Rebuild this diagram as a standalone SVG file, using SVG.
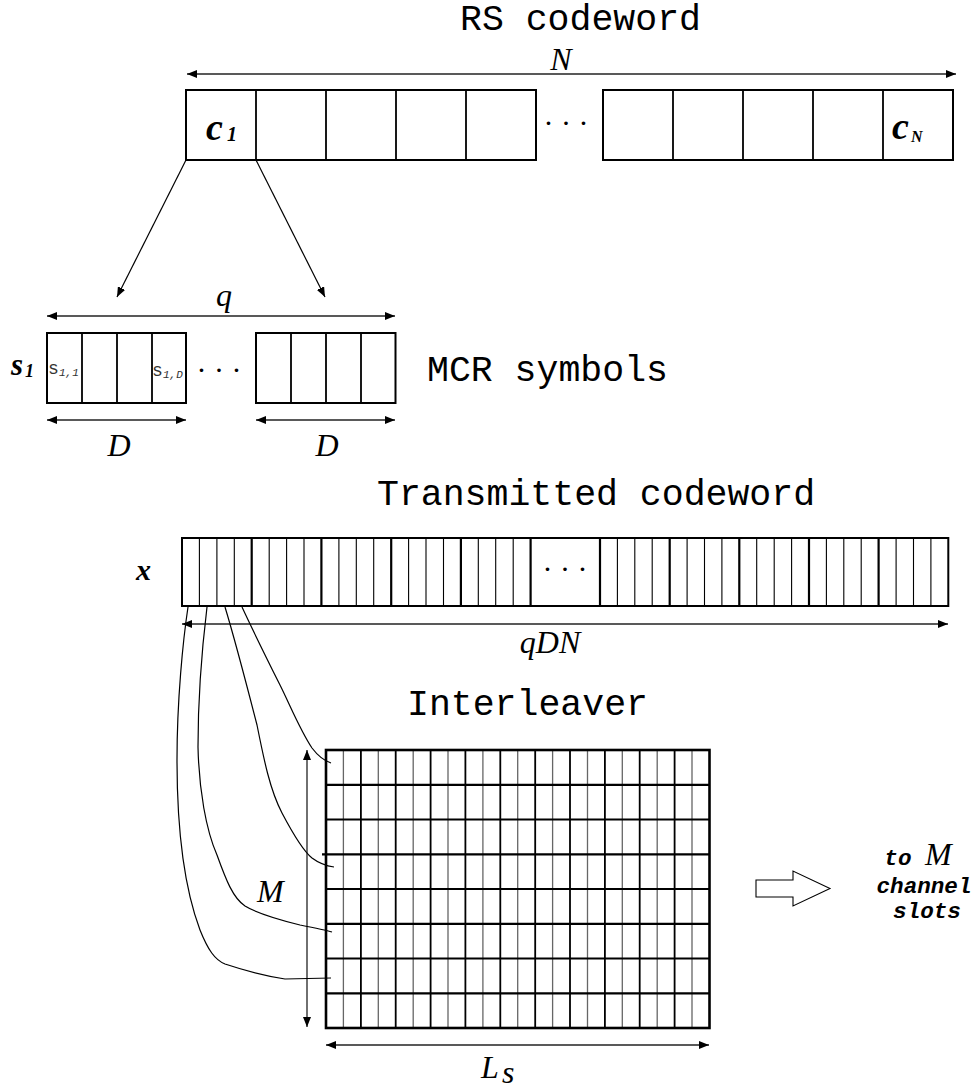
<svg xmlns="http://www.w3.org/2000/svg" width="973" height="1089" viewBox="0 0 973 1089">
<style>
.mono{font-family:"Liberation Mono","Courier New",monospace;font-size:36.5px;fill:#000}
.math{font-family:"Liberation Serif","Times New Roman",serif;font-style:italic;font-size:32px;fill:#000}
.bmath{font-family:"Liberation Serif","Times New Roman",serif;font-style:italic;font-weight:bold;fill:#000}
.bmono{font-family:"Liberation Mono","Courier New",monospace;font-style:italic;font-weight:bold;font-size:22.6px;fill:#000}
.small{font-family:"Liberation Mono","Courier New",monospace;fill:#333}
.dots{font-family:"Liberation Serif",serif;font-size:30px;fill:#000}
.box{fill:#fff;stroke:#000;stroke-width:2}
.cell{fill:none;stroke:#000;stroke-width:1.8}
.thin{fill:none;stroke:#000;stroke-width:1.1}
.thick{fill:none;stroke:#000;stroke-width:2.2}
.gray{fill:none;stroke:#666;stroke-width:1.3}
.dim{fill:none;stroke:#222;stroke-width:1.3}
.conn{fill:none;stroke:#000;stroke-width:1.2}
</style>
<defs>
<marker id="ah" viewBox="0 0 10 8" refX="10" refY="4" markerWidth="10" markerHeight="8" markerUnits="userSpaceOnUse" orient="auto-start-reverse"><path d="M0,0L10,4L0,8z" fill="#000"/></marker>
</defs>

<g id="rs-codeword">
<text class="mono" x="460" y="30">RS codeword</text>
<text class="math" x="561" y="70" text-anchor="middle">N</text>
<line class="dim" x1="187" y1="74" x2="956" y2="74" marker-start="url(#ah)" marker-end="url(#ah)"/>
<rect class="box" x="186" y="90" width="350" height="70"/>
<path class="cell" d="M256,90V160M326,90V160M396,90V160M466,90V160"/>
<rect class="box" x="603" y="90" width="350" height="70"/>
<path class="cell" d="M673,90V160M743,90V160M813,90V160M883,90V160"/>
<text class="bmath" x="206" y="140" font-size="38">c</text>
<text class="bmath" x="227" y="141" font-size="20">1</text>
<text class="bmath" x="892" y="139" font-size="38">c</text>
<text class="bmath" x="911" y="142" font-size="16">N</text>
<text class="dots" x="566" y="133" text-anchor="middle">· · ·</text>
</g>

<g id="mcr-symbols">
<text class="math" x="224" y="306" text-anchor="middle">q</text>
<line class="dim" x1="47" y1="316" x2="395" y2="316" marker-start="url(#ah)" marker-end="url(#ah)"/>
<rect class="box" x="47" y="333" width="139" height="70"/>
<path class="cell" d="M82,333V403M117,333V403M152,333V403"/>
<rect class="box" x="256" y="333" width="139.5" height="70"/>
<path class="cell" d="M291,333V403M326,333V403M361,333V403"/>
<text class="bmath" x="11" y="375" font-size="31">s</text>
<text class="bmath" x="25" y="377" font-size="18">1</text>
<text class="small" x="48" y="374" font-size="18">s</text>
<text class="small" x="59" y="376" font-size="11" font-style="italic">1,1</text>
<text class="small" x="152" y="376" font-size="18">s</text>
<text class="small" x="163" y="378" font-size="11" font-style="italic">1,D</text>
<text class="dots" x="219" y="380" text-anchor="middle">· · ·</text>
<text class="mono" x="427" y="381">MCR symbols</text>
<line class="dim" x1="47" y1="420" x2="186" y2="420" marker-start="url(#ah)" marker-end="url(#ah)"/>
<line class="dim" x1="256" y1="420" x2="395" y2="420" marker-start="url(#ah)" marker-end="url(#ah)"/>
<text class="math" x="119" y="456" text-anchor="middle">D</text>
<text class="math" x="327" y="456" text-anchor="middle">D</text>
</g>

<g id="transmitted-codeword">
<text class="mono" x="377" y="505">Transmitted codeword</text>
<text class="bmath" x="136" y="580" font-size="30">x</text>
<rect class="box" x="182" y="538" width="766.3" height="68"/>
<path class="thin" d="M199.4,538V606M216.9,538V606M234.3,538V606M269.2,538V606M286.6,538V606M304,538V606M338.9,538V606M356.3,538V606M373.7,538V606M408.6,538V606M426,538V606M443.5,538V606M478.3,538V606M495.7,538V606M513.2,538V606M617.4,538V606M634.8,538V606M652.2,538V606M687.1,538V606M704.5,538V606M721.9,538V606M756.7,538V606M774.2,538V606M791.6,538V606M826.4,538V606M843.8,538V606M861.2,538V606M896.1,538V606M913.5,538V606M930.9,538V606"/>
<path class="thick" d="M251.7,538V606M321.4,538V606M391.2,538V606M460.9,538V606M530.6,538V606M600,538V606M669.7,538V606M739.3,538V606M809,538V606M878.6,538V606"/>
<text class="dots" x="565" y="579" text-anchor="middle">· · ·</text>
<line class="dim" x1="182" y1="624" x2="948" y2="624" marker-start="url(#ah)" marker-end="url(#ah)"/>
<text class="math" x="550" y="653" text-anchor="middle" font-size="34">qDN</text>
</g>

<g id="interleaver">
<text class="mono" x="407" y="715">Interleaver</text>
<rect x="326" y="750" width="383.5" height="278" fill="#fff" stroke="none"/>
<path class="gray" d="M343.4,750V1028M378.3,750V1028M413.2,750V1028M448,750V1028M482.9,750V1028M517.7,750V1028M552.6,750V1028M587.5,750V1028M622.3,750V1028M657.2,750V1028M692,750V1028"/>
<path class="cell" d="M360.9,750V1028M395.7,750V1028M430.6,750V1028M465.4,750V1028M500.3,750V1028M535.2,750V1028M570,750V1028M604.9,750V1028M639.7,750V1028M674.6,750V1028"/>
<path class="thick" d="M326,784.8H709.5M326,819.5H709.5M322,854.3H709.5M326,889H709.5M326,923.8H709.5M326,958.5H709.5M326,993.3H709.5"/>
<rect x="326" y="750" width="383.5" height="278" fill="none" stroke="#000" stroke-width="2.6"/>
<line class="dim" x1="307" y1="750" x2="307" y2="1027" marker-start="url(#ah)" marker-end="url(#ah)"/>
<text class="math" x="257" y="902">M</text>
<line class="dim" x1="326" y1="1045" x2="709" y2="1045" marker-start="url(#ah)" marker-end="url(#ah)"/>
<text class="math" x="481" y="1078" font-size="34">L</text>
<text class="math" x="502" y="1083" font-size="21">s</text>
</g>

<g id="output">
<polygon points="756,880 793,880 793,871 830,888.5 793,906 793,897 756,897" fill="#fff" stroke="#000" stroke-width="1.1"/>
<text x="918" y="865" text-anchor="middle"><tspan class="bmono">to </tspan><tspan class="math" font-size="22.6">M</tspan></text>
<text class="bmono" x="924" y="893" text-anchor="middle">channel</text>
<text class="bmono" x="927" y="918" text-anchor="middle">slots</text>
</g>

<g id="connectors">
<line class="conn" x1="186" y1="160" x2="117" y2="297" marker-end="url(#ah)"/>
<line class="conn" x1="256" y1="160" x2="325" y2="297" marker-end="url(#ah)"/>
<path class="conn" d="M188,607 C183,640 177,700 177,760 C177,830 185,890 200,930 C208,950 215,960 225,964 C240,969 260,975 285,979 L331,978"/>
<path class="conn" d="M207,607 C203,640 198,690 198,747 C199,790 206,830 217,855 C226,880 233,898 245,906 C258,914 280,920 300,925 C315,928 325,930 332,932"/>
<path class="conn" d="M225,607 C235,640 248,690 257,725 C264,760 270,790 282,813 C292,832 302,850 312,858 C320,864 327,866 334,867"/>
<path class="conn" d="M242,607 C255,635 270,665 280,685 C290,705 300,730 312,748 C318,756 325,761 331,763"/>
</g>
</svg>
